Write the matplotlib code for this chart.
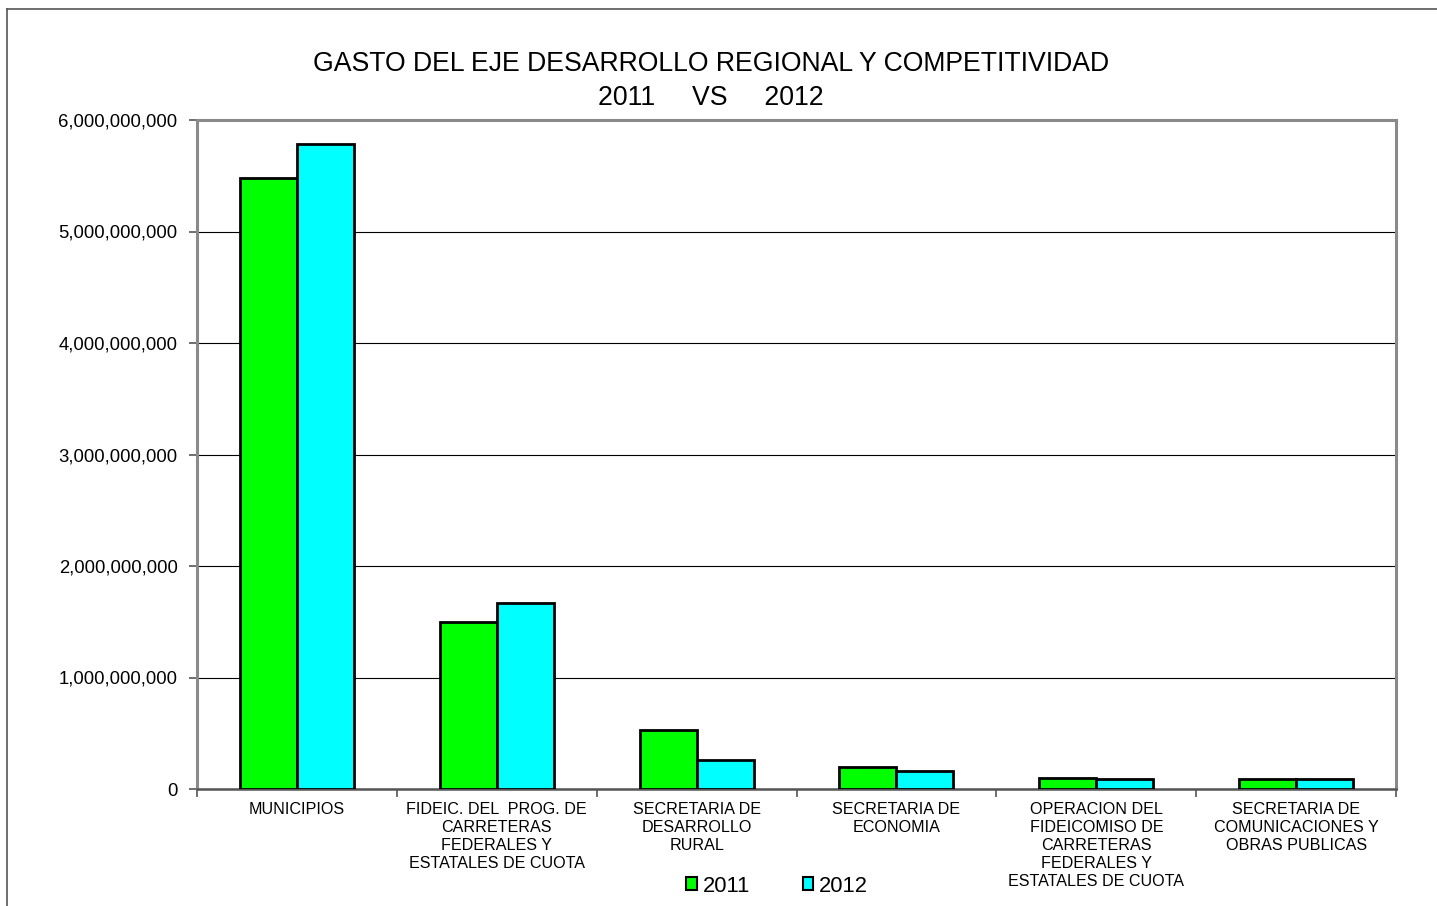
import matplotlib
matplotlib.use("Agg")
import matplotlib.pyplot as plt
from matplotlib.lines import Line2D
from matplotlib.patches import Patch
import numpy as np

plt.rcParams['font.family'] = ['Liberation Sans', 'DejaVu Sans']

categories = [
    "MUNICIPIOS",
    "FIDEIC. DEL  PROG. DE\nCARRETERAS\nFEDERALES Y\nESTATALES DE CUOTA",
    "SECRETARIA DE\nDESARROLLO\nRURAL",
    "SECRETARIA DE\nECONOMIA",
    "OPERACION DEL\nFIDEICOMISO DE\nCARRETERAS\nFEDERALES Y\nESTATALES DE CUOTA",
    "SECRETARIA DE\nCOMUNICACIONES Y\nOBRAS PUBLICAS",
]
values_2011 = [5480000000, 1498000000, 529000000, 197000000, 97000000, 93000000]
values_2012 = [5785000000, 1668000000, 262000000, 161000000, 90000000, 93000000]
series_labels = ["2011", "2012"]
yticks = [0, 1000000000, 2000000000, 3000000000, 4000000000, 5000000000, 6000000000]
title = "GASTO DEL EJE DESARROLLO REGIONAL Y COMPETITIVIDAD\n2011     VS     2012"

W, H = 1437, 906
fig = plt.figure(figsize=(W / 100, H / 100), dpi=100)
ax = fig.add_axes([197 / W, (H - 789) / H, (1396 - 197) / W, (789 - 120) / H])

x = np.arange(len(categories))
bw = 0.285
ax.bar(x - bw / 2, values_2011, bw, color="#00FF00", edgecolor="black", linewidth=2, label=series_labels[0], zorder=3)
ax.bar(x + bw / 2, values_2012, bw, color="#00FFFF", edgecolor="black", linewidth=2, label=series_labels[1], zorder=3)

ax.set_xlim(-0.5, len(categories) - 0.5)
ax.set_ylim(0, 6000000000)
ax.set_yticks(yticks)
ax.set_yticklabels([f"{v:,}" for v in yticks], fontsize=13.3)
ax.yaxis.grid(True, color="black", linewidth=0.8, zorder=0)
ax.set_axisbelow(True)

ax.set_xticks(x)
ax.set_xticklabels(categories, fontsize=11.6, linespacing=1.25, va="top")
ax.tick_params(axis="x", length=0, pad=9)
ax.set_xticks(np.arange(-0.5, len(categories) + 0.5, 1), minor=True)
ax.tick_params(axis="x", which="minor", length=6, width=1.2, color="#555555")
ax.tick_params(axis="y", length=6, width=1.2, color="#555555", pad=8)

for s in ["top", "right", "left"]:
    ax.spines[s].set_color("#8a8a8a")
    ax.spines[s].set_linewidth(2.2)
ax.spines["bottom"].set_color("#555555")
ax.spines["bottom"].set_linewidth(1.8)

fig.text(711 / W, 1 - 81 / H, title, ha="center", va="center", fontsize=19.2, linespacing=1.38)

handles = [Patch(facecolor="#00FF00", edgecolor="black", linewidth=1.5),
           Patch(facecolor="#00FFFF", edgecolor="black", linewidth=1.5)]
leg = fig.legend(handles, series_labels, loc="center", bbox_to_anchor=(777 / W, 1 - 886 / H),
                 ncol=2, frameon=False, fontsize=15.8, handlelength=0.5, handleheight=0.5,
                 handletextpad=0.25, columnspacing=2.4)

# outer frame (left and top)
fig.add_artist(Line2D([7 / W, 7 / W], [0, 1 - 9 / H], transform=fig.transFigure, color="#555555", linewidth=1.2))
fig.add_artist(Line2D([7 / W, 1], [1 - 9 / H, 1 - 9 / H], transform=fig.transFigure, color="#555555", linewidth=1.2))

fig.savefig("out.png", dpi=100)
